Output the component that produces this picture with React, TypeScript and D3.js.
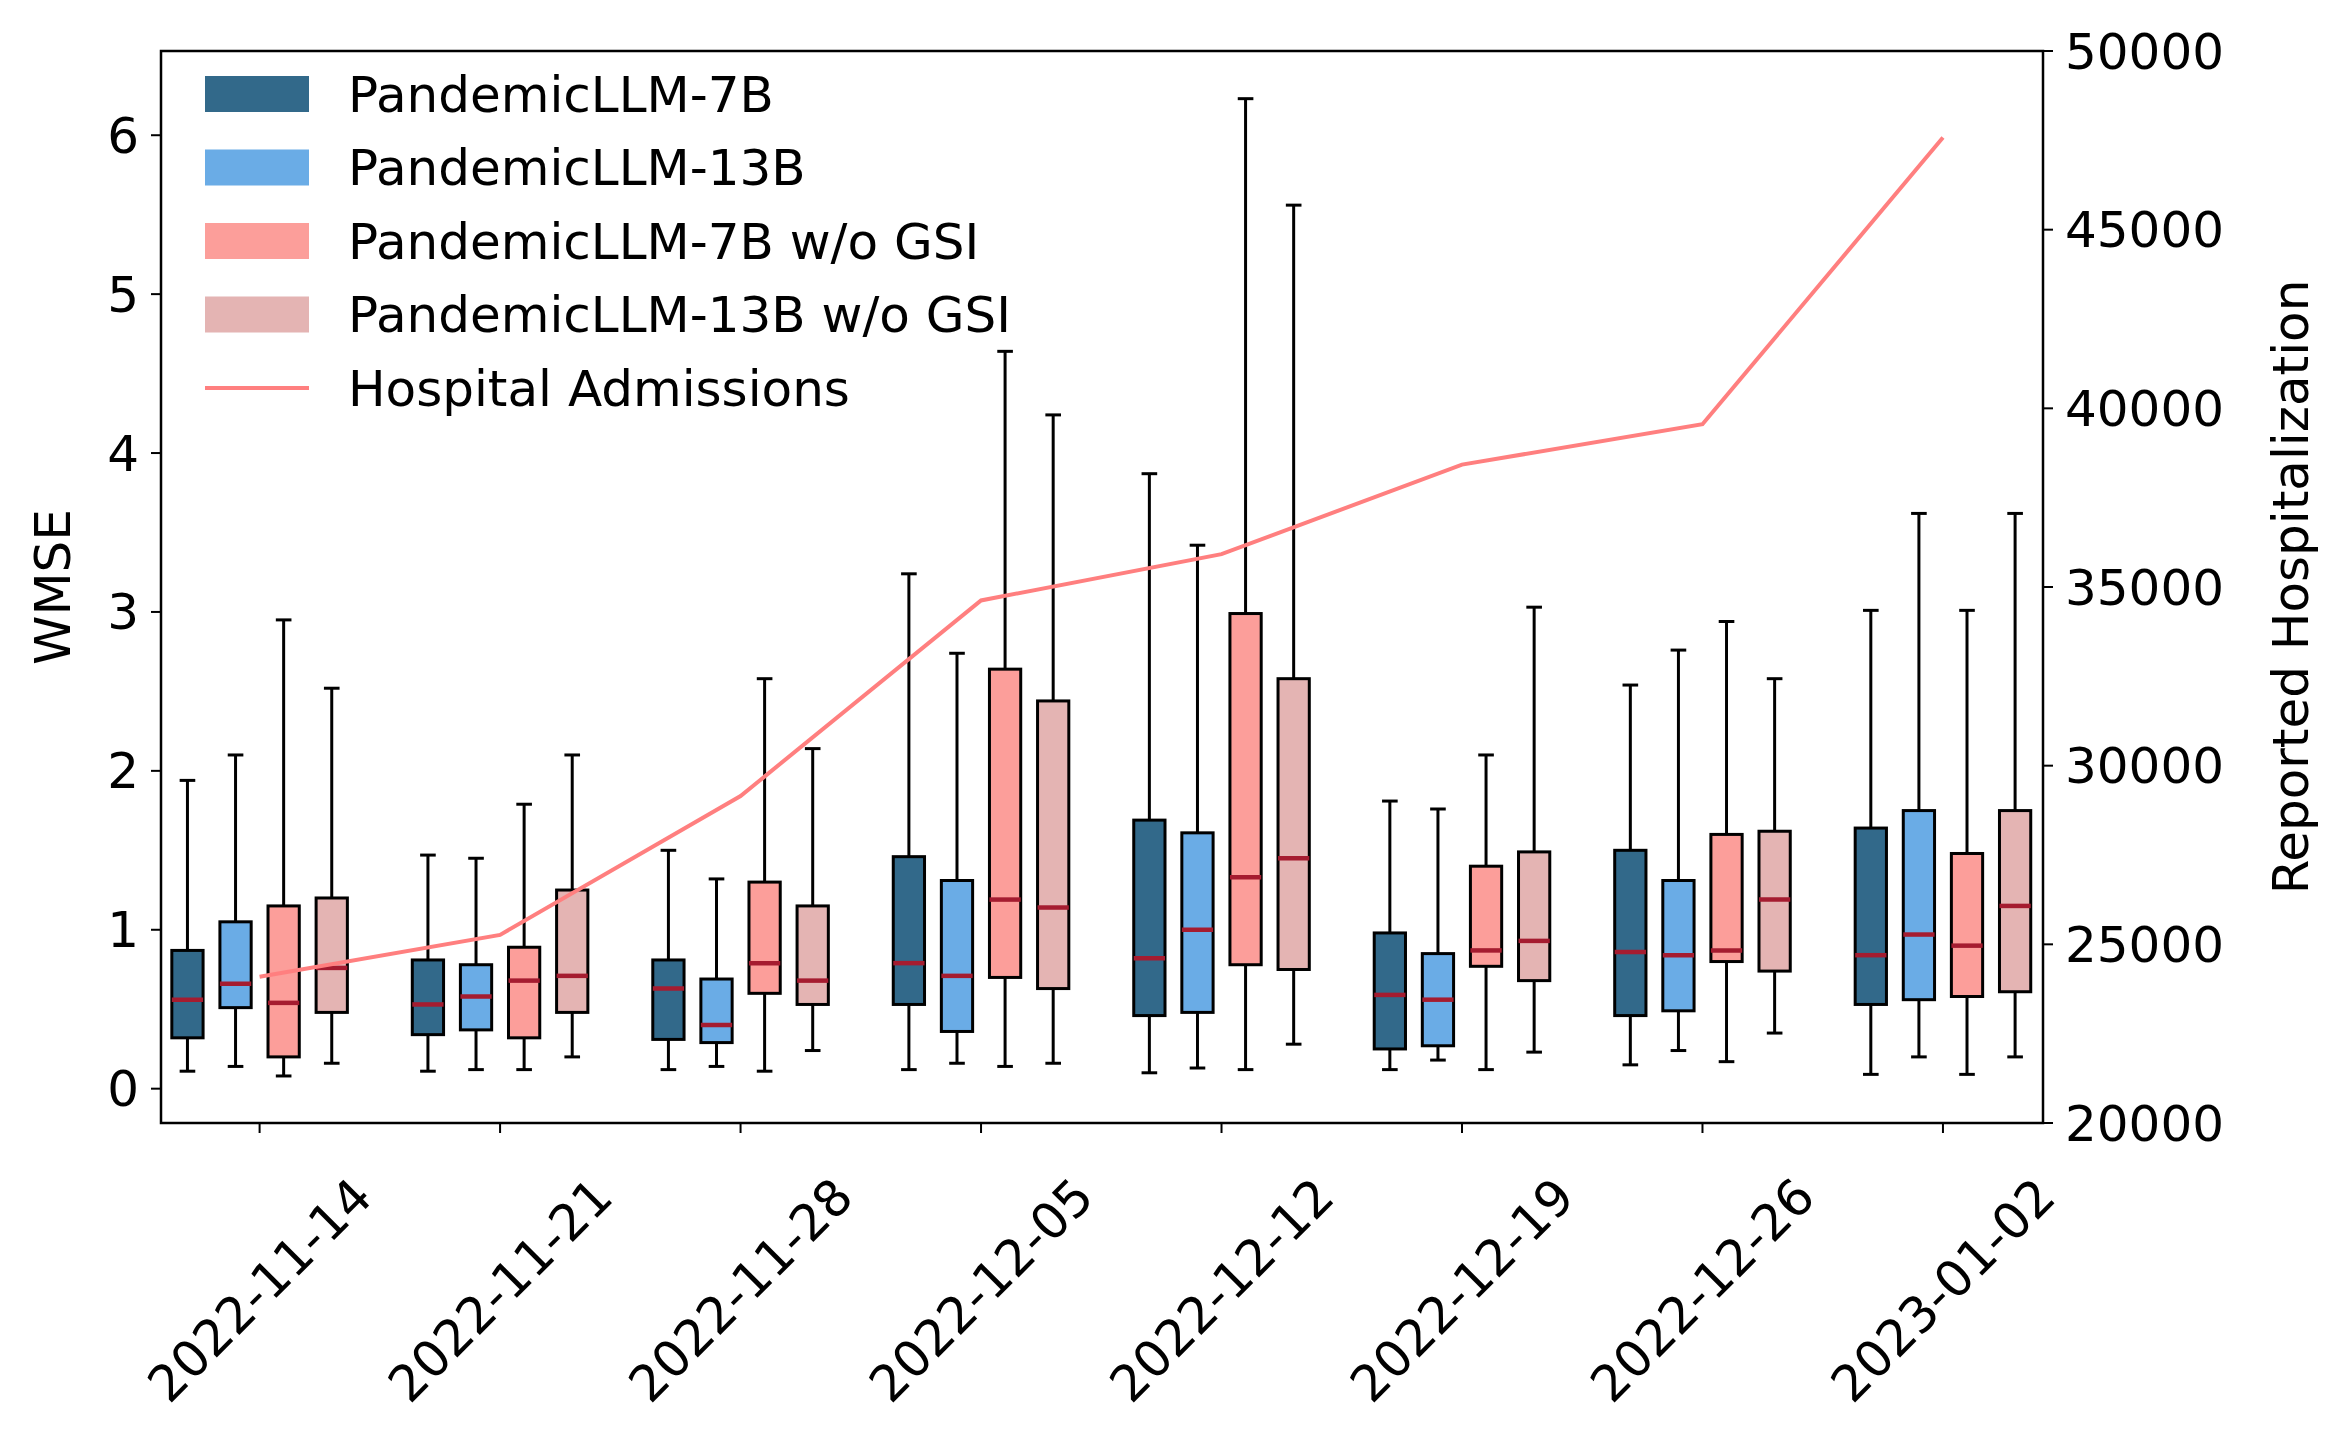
import React from "react";
import * as d3 from "d3";

const dates = ["2022-11-14","2022-11-21","2022-11-28","2022-12-05","2022-12-12","2022-12-19","2022-12-26","2023-01-02"];
const seriesNames = ["PandemicLLM-7B","PandemicLLM-13B","PandemicLLM-7B w/o GSI","PandemicLLM-13B w/o GSI"];
const seriesColors = ["#32698a","#6aace6","#fc9e9a","#e4b4b3"];
// [low, q1, median, q3, high]
const s7B = [[0.11,0.32,0.56,0.87,1.94],[0.11,0.34,0.53,0.81,1.47],[0.12,0.31,0.63,0.81,1.5],[0.12,0.53,0.79,1.46,3.24],[0.1,0.46,0.82,1.69,3.87],[0.12,0.25,0.59,0.98,1.81],[0.15,0.46,0.86,1.5,2.54],[0.09,0.53,0.84,1.64,3.01]];
const s13B = [[0.14,0.51,0.66,1.05,2.1],[0.12,0.37,0.58,0.78,1.45],[0.14,0.29,0.4,0.69,1.32],[0.16,0.36,0.71,1.31,2.74],[0.13,0.48,1.0,1.61,3.42],[0.18,0.27,0.56,0.85,1.76],[0.24,0.49,0.84,1.31,2.76],[0.2,0.56,0.97,1.75,3.62]];
const s7Bw = [[0.08,0.2,0.54,1.15,2.95],[0.12,0.32,0.68,0.89,1.79],[0.11,0.6,0.79,1.3,2.58],[0.14,0.7,1.19,2.64,4.64],[0.12,0.78,1.33,2.99,6.23],[0.12,0.77,0.87,1.4,2.1],[0.17,0.8,0.87,1.6,2.94],[0.09,0.58,0.9,1.48,3.01]];
const s13Bw = [[0.16,0.48,0.76,1.2,2.52],[0.2,0.48,0.71,1.25,2.1],[0.24,0.53,0.68,1.15,2.14],[0.16,0.63,1.14,2.44,4.24],[0.28,0.75,1.45,2.58,5.56],[0.23,0.68,0.93,1.49,3.03],[0.35,0.74,1.19,1.62,2.58],[0.2,0.61,1.15,1.75,3.62]];
const hospital = [24095,25265,29150,34624,35919,38426,39554,47577];
const leftTicks = [0,1,2,3,4,5,6];
const rightTicks = [20000,25000,30000,35000,40000,45000,50000];

const W = 2342, H = 1443;
const L = 161, R = 2043, T = 51, B = 1123;
const font = "DejaVu Sans";
const fs = 50;

export default function App() {
  const x = d3.scaleLinear().domain([-0.41, 7.416]).range([L, R]);
  const y = d3.scaleLinear().domain([-0.216, 6.53]).range([B, T]);
  const y2 = d3.scaleLinear().domain([20000, 50000]).range([B, T]);
  const all = [s7B, s13B, s7Bw, s13Bw];
  const offsets = [-0.3, -0.1, 0.1, 0.3];
  const bw = x(0.13) - x(0);
  const cap = bw / 2;
  const line = d3.line<number>().x((_, i) => x(i)).y(d => y2(d));
  return (
    <svg width={W} height={H} style={{ position: "absolute", left: 0, top: 0, background: "#fff" }} fontFamily={font}>
      {all.map((s, si) => s.map((d, i) => {
        const cx = x(i + offsets[si]);
        return (
          <g key={si + "-" + i}>
            <line x1={cx} x2={cx} y1={y(d[0])} y2={y(d[1])} stroke="#000" strokeWidth={3} />
            <line x1={cx} x2={cx} y1={y(d[3])} y2={y(d[4])} stroke="#000" strokeWidth={3} />
            <line x1={cx - cap / 2} x2={cx + cap / 2} y1={y(d[0])} y2={y(d[0])} stroke="#000" strokeWidth={3} />
            <line x1={cx - cap / 2} x2={cx + cap / 2} y1={y(d[4])} y2={y(d[4])} stroke="#000" strokeWidth={3} />
            <rect x={cx - bw / 2} width={bw} y={y(d[3])} height={y(d[1]) - y(d[3])} fill={seriesColors[si]} stroke="#000" strokeWidth={3} />
            <line x1={cx - bw / 2} x2={cx + bw / 2} y1={y(d[2])} y2={y(d[2])} stroke="#a51c30" strokeWidth={4.5} />
          </g>
        );
      }))}
      <path d={line(hospital) || ""} fill="none" stroke="#ff7f7f" strokeWidth={4} />
      <rect x={L} y={T} width={R - L} height={B - T} fill="none" stroke="#000" strokeWidth={2.5} />
      {leftTicks.map(t => (
        <g key={"l" + t}>
          <line x1={L - 10} x2={L} y1={y(t)} y2={y(t)} stroke="#000" strokeWidth={2} />
          <text x={L - 22} y={y(t)} dy="0.35em" textAnchor="end" fontSize={fs}>{t}</text>
        </g>
      ))}
      {rightTicks.map(t => (
        <g key={"r" + t}>
          <line x1={R} x2={R + 10} y1={y2(t)} y2={y2(t)} stroke="#000" strokeWidth={2} />
          <text x={R + 22} y={y2(t)} dy="0.35em" textAnchor="start" fontSize={fs}>{t}</text>
        </g>
      ))}
      {dates.map((d, i) => (
        <g key={d}>
          <line x1={x(i)} x2={x(i)} y1={B} y2={B + 10} stroke="#000" strokeWidth={2} />
          <text transform={`translate(${x(i)},${1290}) rotate(-45)`} textAnchor="middle" dy="0.35em" fontSize={fs}>{d}</text>
        </g>
      ))}
      <text transform={`translate(52,${(T + B) / 2}) rotate(-90)`} textAnchor="middle" dy="0.35em" fontSize={fs}>WMSE</text>
      <text transform={`translate(2290,${(T + B) / 2}) rotate(-90)`} textAnchor="middle" dy="0.35em" fontSize={fs}>Reported Hospitalization</text>
      {seriesNames.map((n, i) => (
        <g key={n}>
          <rect x={205} y={94 + i * 73.5 - 18} width={104} height={36} fill={seriesColors[i]} />
          <text x={348} y={94 + i * 73.5} dy="0.35em" fontSize={fs}>{n}</text>
        </g>
      ))}
      <line x1={205} x2={309} y1={388} y2={388} stroke="#ff7f7f" strokeWidth={4} />
      <text x={348} y={388} dy="0.35em" fontSize={fs}>Hospital Admissions</text>
    </svg>
  );
}
